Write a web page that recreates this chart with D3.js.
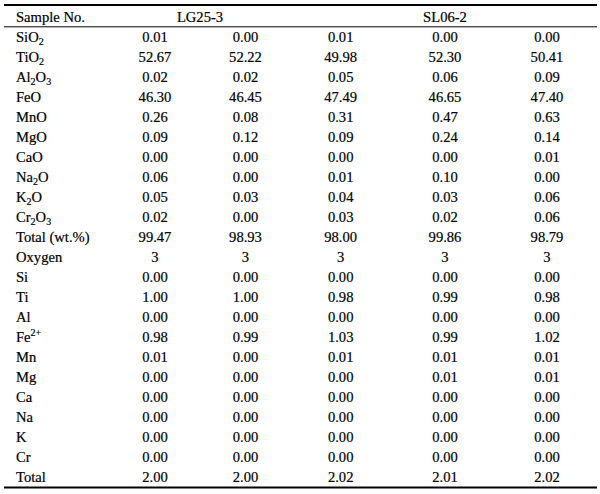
<!DOCTYPE html>
<html>
<head>
<meta charset="utf-8">
<script src="https://cdn.jsdelivr.net/npm/d3@7"></script>
<style>
  html, body { margin: 0; padding: 0; background: #fff; }
  svg { display: block; }
  text { font-family: "Liberation Serif", "Times New Roman", serif; font-size: 14.6px; fill: #000; stroke: #000; stroke-width: 0.2px; }
</style>
</head>
<body>
<svg id="chart" width="600" height="494"></svg>
<script>
// ---- Data ----
const headerLabel = "Sample No.";
const sampleGroups = ["LG25-3", "SL06-2"];
// row labels: "_x" = subscript, "^x" = superscript
const rowLabels = ["SiO_2", "TiO_2", "Al_2O_3", "FeO", "MnO", "MgO", "CaO", "Na_2O", "K_2O", "Cr_2O_3",
  "Total (wt.%)", "Oxygen", "Si", "Ti", "Al", "Fe^2+", "Mn", "Mg", "Ca", "Na", "K", "Cr", "Total"];
const columnKeys = ["LG25-3 a", "LG25-3 b", "SL06-2 a", "SL06-2 b", "SL06-2 c"];
const lg25_3_a = ["0.01", "52.67", "0.02", "46.30", "0.26", "0.09", "0.00", "0.06", "0.05", "0.02", "99.47", "3",
  "0.00", "1.00", "0.00", "0.98", "0.01", "0.00", "0.00", "0.00", "0.00", "0.00", "2.00"];
const lg25_3_b = ["0.00", "52.22", "0.02", "46.45", "0.08", "0.12", "0.00", "0.00", "0.03", "0.00", "98.93", "3",
  "0.00", "1.00", "0.00", "0.99", "0.00", "0.00", "0.00", "0.00", "0.00", "0.00", "2.00"];
const sl06_2_a = ["0.01", "49.98", "0.05", "47.49", "0.31", "0.09", "0.00", "0.01", "0.04", "0.03", "98.00", "3",
  "0.00", "0.98", "0.00", "1.03", "0.01", "0.00", "0.00", "0.00", "0.00", "0.00", "2.02"];
const sl06_2_b = ["0.00", "52.30", "0.06", "46.65", "0.47", "0.24", "0.00", "0.10", "0.03", "0.02", "99.86", "3",
  "0.00", "0.99", "0.00", "0.99", "0.01", "0.01", "0.00", "0.00", "0.00", "0.00", "2.01"];
const sl06_2_c = ["0.00", "50.41", "0.09", "47.40", "0.63", "0.14", "0.01", "0.00", "0.06", "0.06", "98.79", "3",
  "0.00", "0.98", "0.00", "1.02", "0.01", "0.01", "0.00", "0.00", "0.00", "0.00", "2.02"];
const columnValues = [lg25_3_a, lg25_3_b, sl06_2_a, sl06_2_b, sl06_2_c];

// ---- Layout ----
const svg = d3.select("#chart");
const lineX0 = 4, lineX1 = 597;
const labelX = 16;

const y = d3.scalePoint().domain(d3.range(rowLabels.length)).range([36.7, 476.7]);
const x = d3.scaleOrdinal().domain(columnKeys).range([155, 245.5, 340.7, 445, 547]);
const groupX = d3.scaleOrdinal().domain(sampleGroups).range([200, 445]);
const baselineOffset = 5;

// rules
svg.append("line").attr("x1", lineX0).attr("x2", lineX1).attr("y1", 5).attr("y2", 5)
  .attr("stroke", "#000").attr("stroke-width", 2);
svg.append("line").attr("x1", lineX0).attr("x2", lineX1).attr("y1", 26.8).attr("y2", 26.8)
  .attr("stroke", "#000").attr("stroke-width", 1);
svg.append("line").attr("x1", lineX0).attr("x2", lineX1).attr("y1", 487.5).attr("y2", 487.5)
  .attr("stroke", "#000").attr("stroke-width", 2);

// header
svg.append("text").attr("x", labelX).attr("y", 21.5).text(headerLabel);
svg.selectAll("text.group").data(sampleGroups).join("text")
  .attr("class", "group")
  .attr("x", d => groupX(d)).attr("y", 21.5).attr("text-anchor", "middle").text(d => d);

// row labels with sub/superscripts
function parseLabel(s) {
  const parts = [];
  const re = /([_^])([^_^A-Z( ]+)|([^_^]+?)(?=[_^]|$)/g;
  let m;
  while ((m = re.exec(s)) !== null) {
    if (m[1]) parts.push({ t: m[2], mode: m[1] === "_" ? "sub" : "sup" });
    else if (m[3]) parts.push({ t: m[3], mode: "normal" });
  }
  return parts;
}
const labelG = svg.append("g");
rowLabels.forEach((lab, i) => {
  const t = labelG.append("text").attr("x", labelX).attr("y", y(i) + baselineOffset);
  const parts = parseLabel(lab);
  let prev = "normal";
  parts.forEach(p => {
    const ts = t.append("tspan").text(p.t);
    let shift = 0;
    if (p.mode === "sub") { ts.style("font-size", "10px"); shift = 3.5; }
    if (p.mode === "sup") { ts.style("font-size", "10px"); shift = -5.5; }
    const prevShift = prev === "sub" ? 3.5 : prev === "sup" ? -5.5 : 0;
    const dy = shift - prevShift;
    if (dy !== 0) ts.attr("dy", dy);
    prev = p.mode;
  });
});

// values
columnKeys.forEach((key, c) => {
  svg.append("g").selectAll("text").data(columnValues[c]).join("text")
    .attr("x", x(key))
    .attr("y", (d, i) => y(i) + baselineOffset)
    .attr("text-anchor", "middle")
    .text(d => d);
});
</script>
</body>
</html>
